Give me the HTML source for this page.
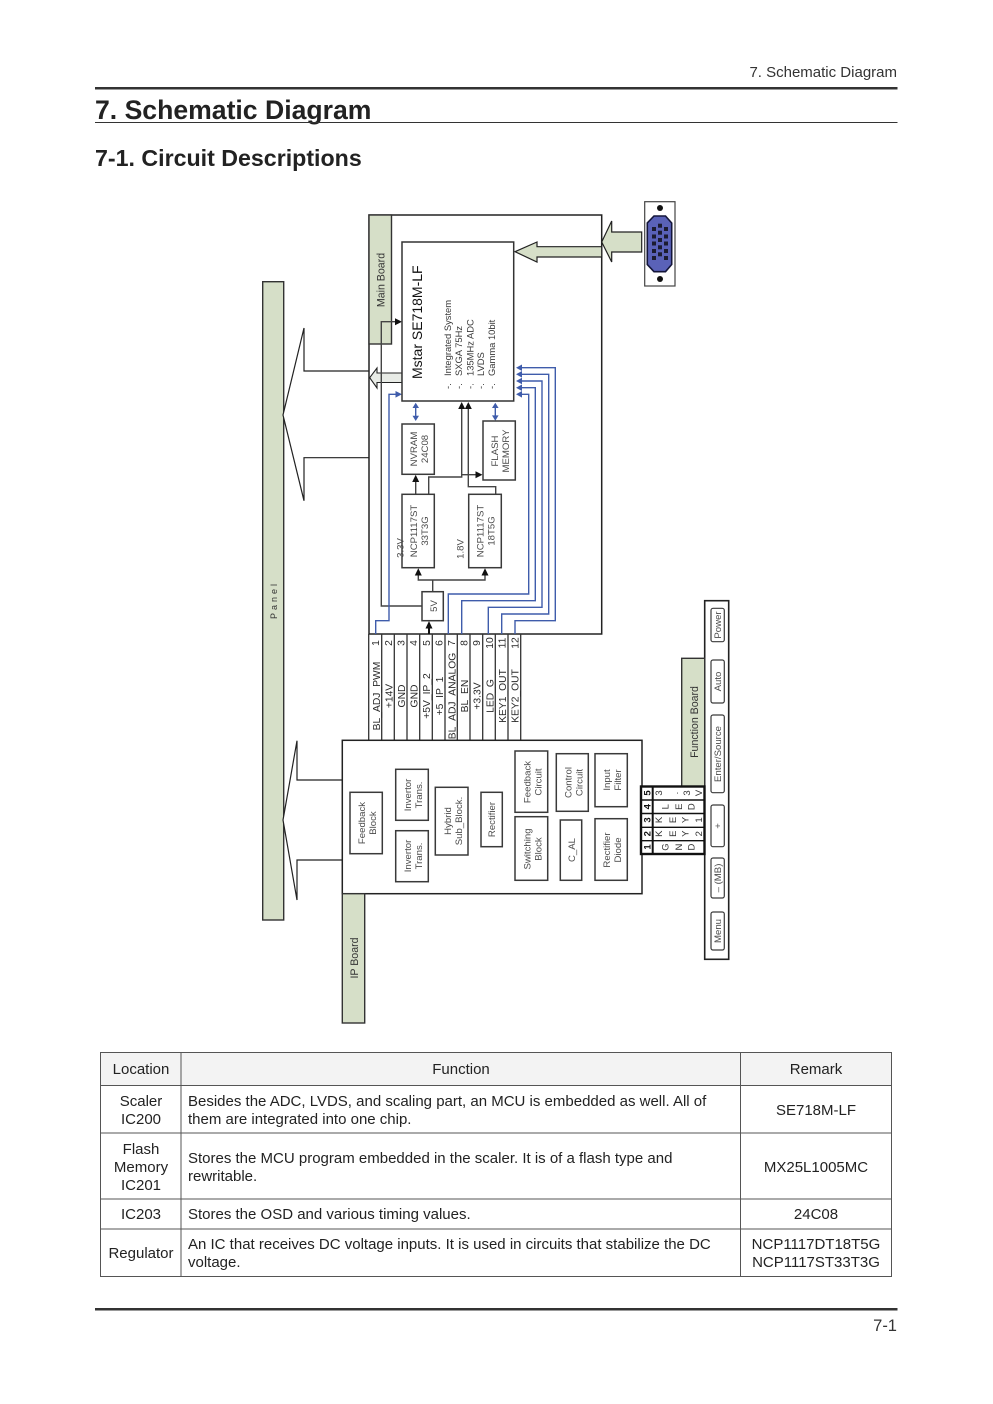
<!DOCTYPE html>
<html><head><meta charset="utf-8"><title>7. Schematic Diagram</title>
<style>
html,body{margin:0;padding:0;background:#fff}
svg{display:block}
text{font-family:"Liberation Sans",sans-serif;fill:#3a3a3a}
.t{font-size:15px;fill:#222}
.m{text-anchor:middle}
.s{font-size:9.6px;text-anchor:middle;fill:#4a4a4a}
.p{font-size:10.3px;text-anchor:middle;fill:#2a2a2a}
.b{fill:#fff;stroke:#3a3a3a;stroke-width:1.5}
.g{fill:#d6dfc8;stroke:#333;stroke-width:1.4}
.w{fill:none;stroke:#444;stroke-width:1.4}
.u{fill:none;stroke:#3f5cab;stroke-width:1.4}
.k{font-size:9.5px;text-anchor:middle;fill:#333}
.n{font-size:9.5px;font-weight:bold;text-anchor:middle;fill:#111}
</style></head><body>
<svg xmlns="http://www.w3.org/2000/svg" width="993" height="1404" viewBox="0 0 993 1404">
<!-- page header -->
<text x="897" y="77" text-anchor="end" style="font-size:15px;fill:#333">7. Schematic Diagram</text>
<rect x="95" y="87" width="802.5" height="2.5" fill="#333"/>
<text x="95" y="119" style="font-size:26.6px;font-weight:bold;fill:#222">7. Schematic Diagram</text>
<rect x="95" y="122" width="802.5" height="1" fill="#333"/>
<text x="95" y="166" style="font-size:23.2px;font-weight:bold;fill:#222">7-1. Circuit Descriptions</text>

<!-- panel -->
<rect class="g" x="262.7" y="281.7" width="21" height="638.3"/>
<text transform="translate(277,600) rotate(-90)" text-anchor="middle" style="font-size:9px;letter-spacing:3px;fill:#333">Panel</text>
<path d="M369 371H304V328L283 415L304 500.7V457.7H369" fill="#fff" stroke="#222" stroke-width="1.2"/>
<path d="M342 780H297V740.7L283 820L297 900V860H342" fill="#fff" stroke="#222" stroke-width="1.2"/>

<!-- main board -->
<rect x="369" y="215" width="232.7" height="419" fill="#fff" stroke="#222" stroke-width="1.5"/>
<rect class="g" x="369" y="215" width="22.5" height="129"/>
<text transform="translate(384.5,280) rotate(-90)" text-anchor="middle" style="font-size:10.6px;fill:#333">Main Board</text>

<!-- connector arrows -->
<path d="M601.7 242L611.7 221V232H641.7V252H611.7V262Z" fill="#d6dfc8" stroke="#222" stroke-width="1.2"/>
<path d="M515 251.7L537 242V246.7H601.7V257H537V262Z" fill="#d6dfc8" stroke="#222" stroke-width="1.2"/>
<path d="M369.7 377.7L377 368V373H402V382.5H377V388Z" fill="#e8ebe6" stroke="#222" stroke-width="1.1"/>

<!-- VGA -->
<rect x="644.7" y="201.7" width="30.3" height="84.3" fill="#fff" stroke="#444" stroke-width="1.2"/>
<circle cx="660" cy="208" r="3" fill="#111"/><circle cx="660" cy="279" r="3" fill="#111"/>
<path d="M654 216H665.5L671.7 223V264.5L665.5 271.7H654L647.3 264.5V223Z" fill="#5a62b8" stroke="#14163a" stroke-width="1.6"/>
<g fill="#1c1c30">
<rect x="652" y="227" width="4" height="4"/><rect x="652" y="234.5" width="4" height="4"/><rect x="652" y="241.5" width="4" height="4"/><rect x="652" y="249" width="4" height="4"/><rect x="652" y="256" width="4" height="4"/>
<rect x="658" y="223.7" width="4" height="4"/><rect x="658" y="230.7" width="4" height="4"/><rect x="658" y="238" width="4" height="4"/><rect x="658" y="245.3" width="4" height="4"/><rect x="658" y="252.3" width="4" height="4"/>
<rect x="664" y="227" width="4" height="4"/><rect x="664" y="234.5" width="4" height="4"/><rect x="664" y="241.5" width="4" height="4"/><rect x="664" y="249" width="4" height="4"/><rect x="664" y="256" width="4" height="4"/>
</g>

<!-- wires -->
<path class="w" d="M422 606H381.3V321.7H397"/>
<path class="w" d="M415.7 494V482"/>
<path class="w" d="M428.7 494V477H461.7V409M461.7 474.7H476"/>
<path class="w" d="M495.7 494V486.7H468.3V409"/>
<path class="w" d="M432.7 591.7V580M418.3 575V580H485V575"/>
<path d="M429 634V628" fill="none" stroke="#111" stroke-width="2"/>
<path class="u" d="M375.7 634V620.7H389V394.3H397"/>
<path class="u" d="M448.3 634V594H528.7V394.3H521"/>
<path class="u" d="M461.7 634V600.7H535.3V387.7H521"/>
<path class="u" d="M488.3 634V607.3H542V381H521"/>
<path class="u" d="M501.7 634V614H548.7V374.3H521"/>
<path class="u" d="M515 634V620.7H555.3V367.7H521"/>
<path class="u" d="M415.7 407V419M495.3 407V416" stroke-width="1.5"/>

<!-- arrowheads -->
<g fill="#111">
<path d="M402 321.7L395 318.2V325.2Z"/>
<path d="M415.7 474.7L412.2 482H419.2Z"/>
<path d="M461.7 402L458.2 409H465.2Z"/>
<path d="M468.3 402L464.8 409H471.8Z"/>
<path d="M482.5 474.7L475.5 471.2V478.2Z"/>
<path d="M418.3 568.3L414.8 575.5H421.8Z"/>
<path d="M485 568.3L481.5 575.5H488.5Z"/>
<path d="M429 621L425.5 628.5H432.5Z"/>
</g>
<g fill="#3f5cab">
<path d="M402 394.3L395.5 391V397.6Z"/>
<path d="M516 367.7L522 364.5V371Z"/><path d="M516 374.3L522 371V377.6Z"/><path d="M516 381L522 377.8V384.2Z"/><path d="M516 387.7L522 384.5V391Z"/><path d="M516 394.3L522 391V397.6Z"/>
<path d="M415.7 402.7L412.5 408H419Z"/><path d="M415.7 421L412.5 415.7H419Z"/>
<path d="M495.3 402.7L492 408H498.6Z"/><path d="M495.3 420.7L492 415.4H498.6Z"/>
</g>

<!-- Mstar -->
<rect x="402" y="242" width="111.7" height="159" fill="#fff" stroke="#333" stroke-width="1.5"/>
<text transform="translate(422,379) rotate(-90)" style="font-size:14px;fill:#111">Mstar SE718M-LF</text>
<g style="font-size:9.4px;fill:#555">
<text transform="translate(451,389) rotate(-90)">-.</text><text transform="translate(451,376) rotate(-90)">Integrated System</text>
<text transform="translate(462,389) rotate(-90)">-.</text><text transform="translate(462,376) rotate(-90)">SXGA 75Hz</text>
<text transform="translate(473.3,389) rotate(-90)">-.</text><text transform="translate(473.3,376) rotate(-90)">135MHz ADC</text>
<text transform="translate(484,389) rotate(-90)">-.</text><text transform="translate(484,376) rotate(-90)">LVDS</text>
<text transform="translate(495,389) rotate(-90)">-.</text><text transform="translate(495,376) rotate(-90)">Gamma 10bit</text>
</g>

<!-- main board blocks -->
<rect class="b" x="402" y="424" width="32.3" height="50.3"/>
<text class="s" transform="translate(417,449) rotate(-90)">NVRAM</text><text class="s" transform="translate(428,449) rotate(-90)">24C08</text>
<rect class="b" x="483" y="421" width="32.3" height="59"/>
<text class="s" transform="translate(498,451) rotate(-90)">FLASH</text><text class="s" transform="translate(509,451) rotate(-90)">MEMORY</text>
<rect class="b" x="402" y="494.3" width="32.3" height="73.4"/>
<text class="s" transform="translate(417,531) rotate(-90)">NCP1117ST</text><text class="s" transform="translate(428,531) rotate(-90)">33T3G</text>
<rect class="b" x="468.7" y="494.3" width="32.6" height="73.4"/>
<text class="s" transform="translate(483.5,531) rotate(-90)">NCP1117ST</text><text class="s" transform="translate(494.5,531) rotate(-90)">18T5G</text>
<rect class="b" x="422" y="591.7" width="21.3" height="29"/>
<text class="s" transform="translate(437,606) rotate(-90)">5V</text>
<text class="s" transform="translate(403.5,548) rotate(-90)">3.3V</text>
<text class="s" transform="translate(463.5,549) rotate(-90)">1.8V</text>

<!-- pin strip -->
<path d="M368.7 634V740M381.7 634V740M394.3 634V740M407 634V740M419.7 634V740M432.3 634V740M445 634V740M457.3 634V740M470 634V740M482.7 634V740M495.3 634V740M508 634V740M520.7 634V740" fill="none" stroke="#333" stroke-width="1.3"/>
<g>
<text class="p" transform="translate(379,643) rotate(-90)">1</text><text class="p" transform="translate(392,643) rotate(-90)">2</text><text class="p" transform="translate(404.5,643) rotate(-90)">3</text><text class="p" transform="translate(417,643) rotate(-90)">4</text><text class="p" transform="translate(430,643) rotate(-90)">5</text><text class="p" transform="translate(442.5,643) rotate(-90)">6</text><text class="p" transform="translate(455,643) rotate(-90)">7</text><text class="p" transform="translate(467.5,643) rotate(-90)">8</text><text class="p" transform="translate(480,643) rotate(-90)">9</text><text class="p" transform="translate(493,643) rotate(-90)">10</text><text class="p" transform="translate(505.5,643) rotate(-90)">11</text><text class="p" transform="translate(518.5,643) rotate(-90)">12</text>
<text class="p" transform="translate(380,696) rotate(-90)">BL_ADJ_PWM</text>
<text class="p" transform="translate(392.5,696) rotate(-90)">+14V</text>
<text class="p" transform="translate(405,696) rotate(-90)">GND</text>
<text class="p" transform="translate(417.5,696) rotate(-90)">GND</text>
<text class="p" transform="translate(430,696) rotate(-90)">+5V_IP_2</text>
<text class="p" transform="translate(443,696) rotate(-90)">+5_IP_1</text>
<text class="p" transform="translate(455.5,696) rotate(-90)">BL_ADJ_ANALOG</text>
<text class="p" transform="translate(468,696) rotate(-90)">BL_EN</text>
<text class="p" transform="translate(480.5,696) rotate(-90)">+3.3V</text>
<text class="p" transform="translate(493.5,696) rotate(-90)">LED_G</text>
<text class="p" transform="translate(506,696) rotate(-90)">KEY1_OUT</text>
<text class="p" transform="translate(518.5,696) rotate(-90)">KEY2_OUT</text>
</g>

<!-- IP board -->
<rect x="342.3" y="740.3" width="299.7" height="153.4" fill="#fff" stroke="#222" stroke-width="1.5"/>
<rect class="g" x="342.3" y="893.7" width="22.4" height="129.3"/>
<text transform="translate(358,958) rotate(-90)" text-anchor="middle" style="font-size:10.6px;fill:#333">IP Board</text>

<rect class="b" x="350" y="792.3" width="32.3" height="61.4"/>
<text class="s" transform="translate(365,823) rotate(-90)">Feedback</text><text class="s" transform="translate(376,823) rotate(-90)">Block</text>
<rect class="b" x="395.7" y="769.3" width="32.6" height="51"/>
<text class="s" transform="translate(411,795) rotate(-90)">Invertor</text><text class="s" transform="translate(422,795) rotate(-90)">Trans.</text>
<rect class="b" x="395.7" y="830.7" width="32.6" height="51"/>
<text class="s" transform="translate(411,856) rotate(-90)">Invertor</text><text class="s" transform="translate(422,856) rotate(-90)">Trans.</text>
<rect class="b" x="435.3" y="787.3" width="32.7" height="67.7"/>
<text class="s" transform="translate(451,821) rotate(-90)">Hybrid</text><text class="s" transform="translate(462,821) rotate(-90)">Sub_Block.</text>
<rect class="b" x="481" y="792.3" width="21.3" height="54.4"/>
<text class="s" transform="translate(495,819.5) rotate(-90)">Rectifier</text>
<rect class="b" x="515" y="751" width="32.7" height="61.3"/>
<text class="s" transform="translate(530.5,782) rotate(-90)">Feedback</text><text class="s" transform="translate(541.5,782) rotate(-90)">Circuit</text>
<rect class="b" x="515" y="816.7" width="32.7" height="63.6"/>
<text class="s" transform="translate(530.5,849) rotate(-90)">Switching</text><text class="s" transform="translate(541.5,849) rotate(-90)">Block</text>
<rect class="b" x="556.3" y="753.7" width="32" height="57.6"/>
<text class="s" transform="translate(571.5,782.5) rotate(-90)">Control</text><text class="s" transform="translate(582.5,782.5) rotate(-90)">Circuit</text>
<rect class="b" x="560.3" y="820" width="21.4" height="60.3"/>
<text class="s" transform="translate(575,850) rotate(-90)">C_AL</text>
<rect class="b" x="595" y="753.7" width="32.3" height="53"/>
<text class="s" transform="translate(610,780) rotate(-90)">Input</text><text class="s" transform="translate(621,780) rotate(-90)">Filter</text>
<rect class="b" x="595" y="818.7" width="32.3" height="61.6"/>
<text class="s" transform="translate(610,850) rotate(-90)">Rectifier</text><text class="s" transform="translate(621,850) rotate(-90)">Diode</text>

<!-- function board -->
<rect x="704.7" y="600.7" width="24" height="358.6" fill="#fff" stroke="#222" stroke-width="1.6"/>
<rect class="g" x="681.7" y="658.3" width="23" height="128"/>
<text transform="translate(698,722) rotate(-90)" text-anchor="middle" style="font-size:10.6px;fill:#333">Function Board</text>
<g fill="#fff" stroke="#3a3a3a" stroke-width="1.2">
<rect x="711" y="608.3" width="13.3" height="33.4" rx="2"/>
<rect x="711" y="660" width="13.3" height="43" rx="2"/>
<rect x="711" y="715" width="13.3" height="77.7" rx="2"/>
<rect x="711" y="805" width="13.3" height="41.7" rx="2"/>
<rect x="711" y="858" width="13.3" height="40" rx="2"/>
<rect x="711" y="912" width="13.3" height="38" rx="2"/>
</g>
<text class="s" transform="translate(721,625) rotate(-90)">Power</text>
<text class="s" transform="translate(721,681.5) rotate(-90)">Auto</text>
<text class="s" transform="translate(721,754) rotate(-90)">Enter/Source</text>
<text class="s" transform="translate(721,826) rotate(-90)">+</text>
<text class="s" transform="translate(721,878) rotate(-90)">– (MB)</text>
<text class="s" transform="translate(721,931) rotate(-90)">Menu</text>

<!-- key connector -->
<rect x="641" y="786.5" width="63.5" height="67.5" fill="#fff" stroke="#111" stroke-width="2.4"/>
<path d="M641 800H704.5M641 813.5H704.5M641 827.3H704.5M641 840.7H704.5" stroke="#111" stroke-width="1.4" fill="none"/>
<path d="M652.7 786.5V854" stroke="#111" stroke-width="2" fill="none"/>
<text class="n" transform="translate(650.5,793) rotate(-90)">5</text>
<text class="n" transform="translate(650.5,806.7) rotate(-90)">4</text>
<text class="n" transform="translate(650.5,820) rotate(-90)">3</text>
<text class="n" transform="translate(650.5,833.7) rotate(-90)">2</text>
<text class="n" transform="translate(650.5,847) rotate(-90)">1</text>
<g>
<text class="k" transform="translate(662,793) rotate(-90)">3</text><text class="k" transform="translate(678,793) rotate(-90)">.</text><text class="k" transform="translate(690,793) rotate(-90)">3</text><text class="k" transform="translate(702,793) rotate(-90)">V</text>
<text class="k" transform="translate(668.5,806.7) rotate(-90)">L</text><text class="k" transform="translate(682,806.7) rotate(-90)">E</text><text class="k" transform="translate(694.5,806.7) rotate(-90)">D</text>
<text class="k" transform="translate(662,820) rotate(-90)">K</text><text class="k" transform="translate(676,820) rotate(-90)">E</text><text class="k" transform="translate(688.5,820) rotate(-90)">Y</text><text class="k" transform="translate(702,820) rotate(-90)">1</text>
<text class="k" transform="translate(662,833.7) rotate(-90)">K</text><text class="k" transform="translate(676,833.7) rotate(-90)">E</text><text class="k" transform="translate(688.5,833.7) rotate(-90)">Y</text><text class="k" transform="translate(702,833.7) rotate(-90)">2</text>
<text class="k" transform="translate(668.5,847) rotate(-90)">G</text><text class="k" transform="translate(682,847) rotate(-90)">N</text><text class="k" transform="translate(694.5,847) rotate(-90)">D</text>
</g>

<!-- table -->
<rect x="100.5" y="1052.5" width="791" height="33" fill="#f3f3f3"/>
<path d="M100.5 1052.5H891.5V1276.5H100.5ZM181 1052.5V1276.5M740.5 1052.5V1276.5M100.5 1085.5H891.5M100.5 1133H891.5M100.5 1199H891.5M100.5 1229H891.5" fill="none" stroke="#555" stroke-width="1"/>
<text class="t m" x="141" y="1074">Location</text>
<text class="t m" x="461" y="1074">Function</text>
<text class="t m" x="816" y="1074">Remark</text>
<text class="t m" x="141" y="1106">Scaler</text><text class="t m" x="141" y="1124">IC200</text>
<text class="t" x="188" y="1106">Besides the ADC, LVDS, and scaling part, an MCU is embedded as well. All of</text>
<text class="t" x="188" y="1124">them are integrated into one chip.</text>
<text class="t m" x="816" y="1115">SE718M-LF</text>
<text class="t m" x="141" y="1154">Flash</text><text class="t m" x="141" y="1172">Memory</text><text class="t m" x="141" y="1190">IC201</text>
<text class="t" x="188" y="1163">Stores the MCU program embedded in the scaler. It is of a flash type and</text>
<text class="t" x="188" y="1181">rewritable.</text>
<text class="t m" x="816" y="1172">MX25L1005MC</text>
<text class="t m" x="141" y="1219">IC203</text>
<text class="t" x="188" y="1219">Stores the OSD and various timing values.</text>
<text class="t m" x="816" y="1219">24C08</text>
<text class="t m" x="141" y="1258">Regulator</text>
<text class="t" x="188" y="1249">An IC that receives DC voltage inputs. It is used in circuits that stabilize the DC</text>
<text class="t" x="188" y="1267">voltage.</text>
<text class="t m" x="816" y="1249">NCP1117DT18T5G</text>
<text class="t m" x="816" y="1267">NCP1117ST33T3G</text>

<!-- footer -->
<rect x="95" y="1308" width="802.5" height="2.5" fill="#333"/>
<text x="897" y="1331" text-anchor="end" style="font-size:16.5px;fill:#333">7-1</text>
</svg>
</body></html>
